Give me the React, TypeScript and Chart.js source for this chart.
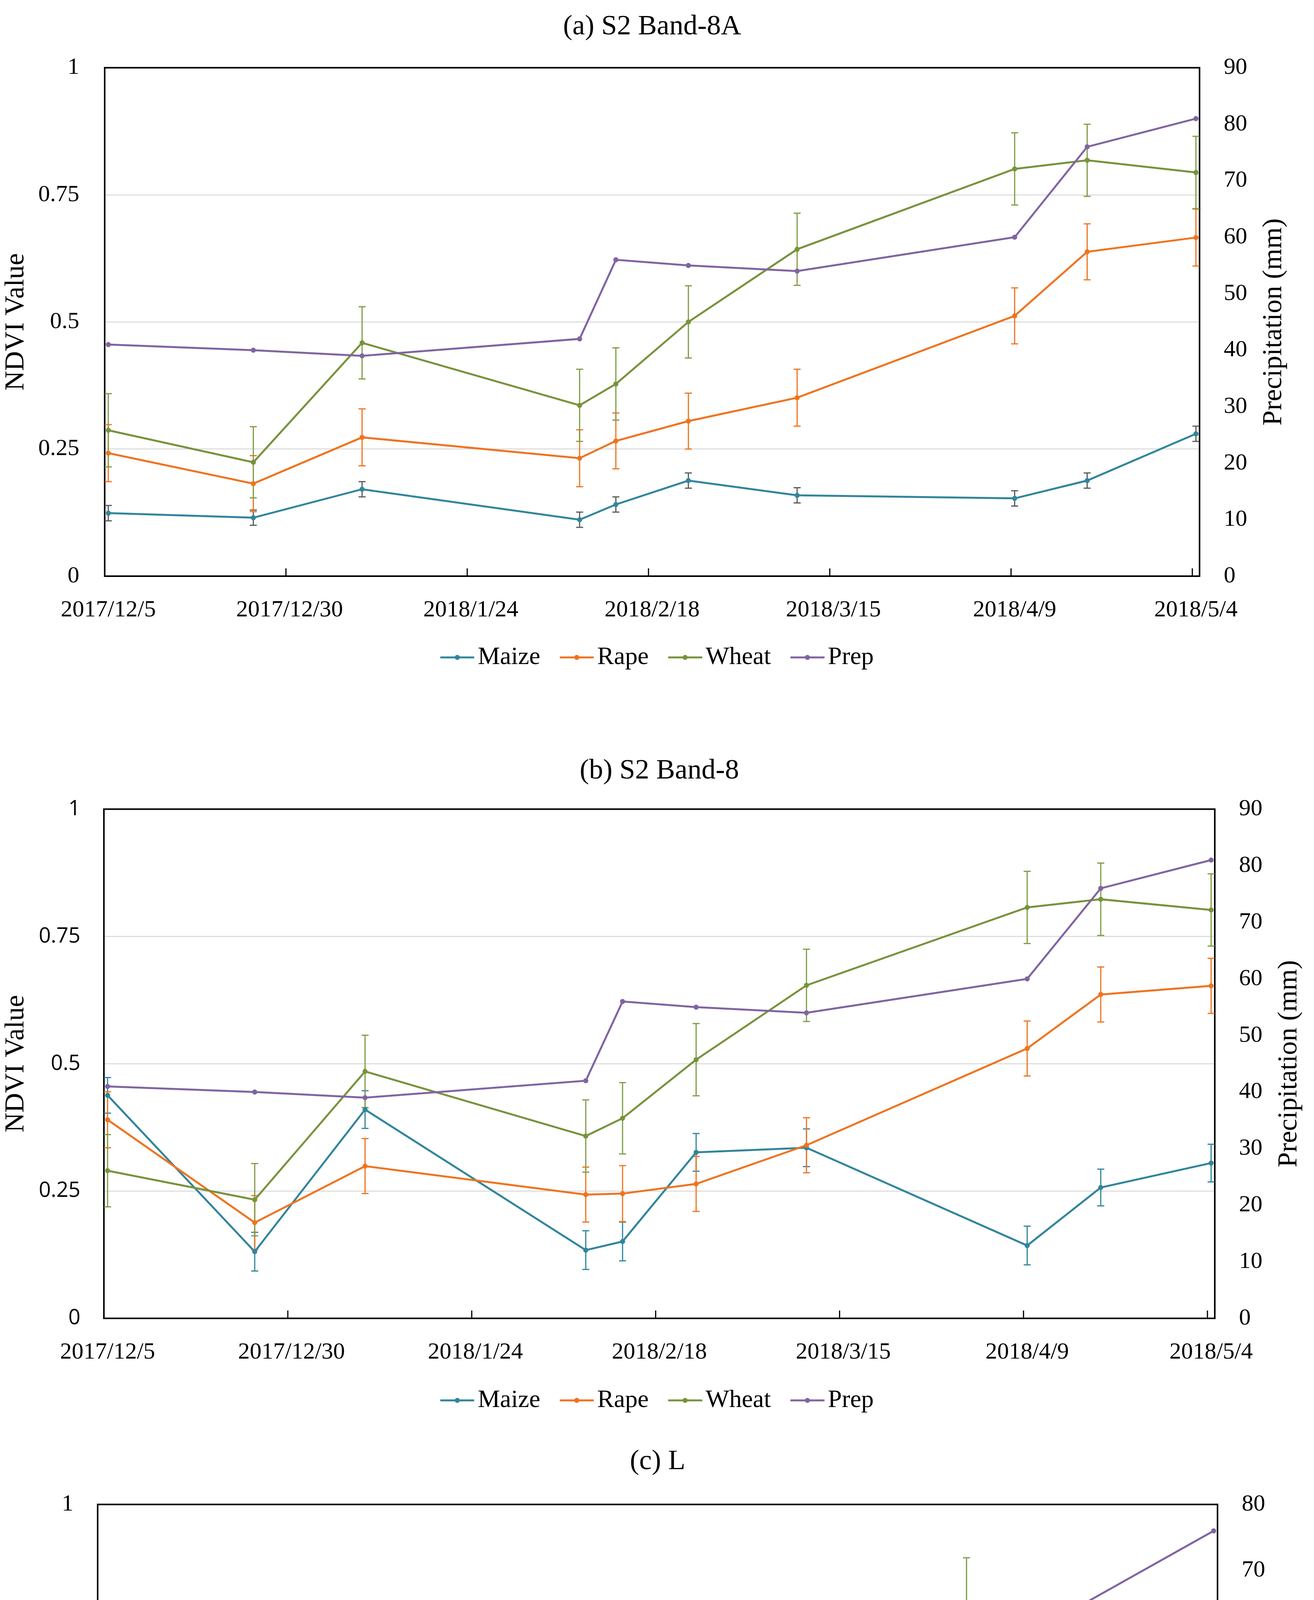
import React, { useEffect, useRef } from 'react';
import { Chart, registerables } from 'chart.js';

Chart.register(...registerables);

const SERIF = '"Liberation Serif", "Times New Roman", serif';
const SANS = '"Open Sans", "Noto Sans", sans-serif';

// ---------------- data ----------------
const seriesNames = ['Maize', 'Rape', 'Wheat', 'Prep'];
const seriesColors = ['#31859C', '#EE7420', '#77933C', '#8064A2'];

// acquisition dates, as day offsets from 2017/12/5
const daysS2 = [0, 20, 35, 65, 70, 80, 95, 125, 135, 150];
const daysL = [0, 16, 80, 112, 144];

// x tick labels (day offsets from 2017/12/5)
const xTickDaysS2 = [0, 25, 50, 75, 100, 125, 150];
const xTickLabelsS2 = ['2017/12/5', '2017/12/30', '2018/1/24', '2018/2/18', '2018/3/15', '2018/4/9', '2018/5/4'];
const xTickDaysL = [0, 25, 50, 75, 100, 125, 143];
const xTickLabelsL = ['2017/12/5', '2017/12/30', '2018/1/24', '2018/2/18', '2018/3/15', '2018/4/9', '2018/04/28'];
const xTickMarkDaysL = [0, 25, 50, 75, 100, 125];

// (a) S2 Band-8A
const maizeA = [0.124, 0.115, 0.171, 0.111, 0.141, 0.188, 0.159, 0.153, 0.188, 0.28];
const maizeErrA = [0.015, 0.015, 0.015, 0.015, 0.015, 0.015, 0.015, 0.015, 0.015, 0.015];
const rapeA = [0.242, 0.182, 0.273, 0.232, 0.266, 0.305, 0.351, 0.512, 0.638, 0.666];
const rapeErrA = [0.056, 0.055, 0.056, 0.056, 0.055, 0.055, 0.056, 0.055, 0.055, 0.056];
const wheatA = [0.287, 0.224, 0.459, 0.336, 0.378, 0.5, 0.643, 0.801, 0.818, 0.794];
const wheatErrA = [0.072, 0.07, 0.071, 0.071, 0.071, 0.071, 0.071, 0.071, 0.071, 0.071];
const prepA = [41, 40, 39, 42, 56, 55, 54, 60, 76, 81];

// (b) S2 Band-8
const maizeB = [0.438, 0.131, 0.41, 0.134, 0.151, 0.326, 0.335, 0.143, 0.257, 0.305];
const maizeErrB = [0.035, 0.038, 0.037, 0.038, 0.038, 0.037, 0.037, 0.038, 0.036, 0.037];
const rapeB = [0.39, 0.188, 0.299, 0.243, 0.245, 0.264, 0.34, 0.53, 0.636, 0.653];
const rapeErrB = [0.055, 0.053, 0.054, 0.054, 0.055, 0.054, 0.054, 0.054, 0.054, 0.054];
const wheatB = [0.29, 0.233, 0.485, 0.358, 0.393, 0.508, 0.654, 0.807, 0.823, 0.802];
const wheatErrB = [0.071, 0.071, 0.071, 0.071, 0.07, 0.071, 0.071, 0.071, 0.071, 0.071];
const prepB = [41, 40, 39, 42, 56, 55, 54, 60, 76, 81];

// (c) L
const maizeC = [0.421, 0.346, 0.315, 0.292, 0.307];
const maizeErrC = [0.023, 0.025, 0.024, 0.023, 0.023];
const rapeC = [0.388, 0.329, 0.436, 0.559, 0.562];
const rapeErrC = [0.047, 0.045, 0.047, 0.046, 0.047];
const wheatC = [0.212, 0.207, 0.46, 0.782, 0.683];
const wheatErrC = [0.118, 0.12, 0.12, 0.117, 0.117];
const prepC = [41, 40, 56, 55, 76];

// ---------------- panels ----------------
const panels = [
  {
    key: 'a', top: 0, height: 1740, title: '(a) S2 Band-8A',
    days: daysS2, xMax: 151, tickDays: xTickDaysS2, tickLabels: xTickLabelsS2, tickMarkDays: xTickDaysS2,
    maize: maizeA, maizeErr: maizeErrA, rape: rapeA, rapeErr: rapeErrA, wheat: wheatA, wheatErr: wheatErrA, prep: prepA,
    maizeErrColor: '#595959', yStep: 0.25, y1Max: 90, yLabel: 'NDVI Value',
    yTickFamily: SERIF, yTickSize: 60,
    titlePad: { top: 26, bottom: 61 }, leftW: 268, rightW: 293, xAxisH: 126, padBottom: 15, yTickPad: 65, rightTitleOffset: 102,
  },
  {
    key: 'b', top: 1900, height: 1772, title: '(b) S2 Band-8',
    days: daysS2, xMax: 151, tickDays: xTickDaysS2, tickLabels: xTickLabelsS2, tickMarkDays: xTickDaysS2,
    maize: maizeB, maizeErr: maizeErrB, rape: rapeB, rapeErr: rapeErrB, wheat: wheatB, wheatErr: wheatErrB, prep: prepB,
    maizeErrColor: '#31859C', yStep: 0.25, y1Max: 90, yLabel: 'NDVI Value',
    yTickFamily: SANS, yTickSize: 54,
    titlePad: { top: 31, bottom: 54 }, leftW: 266, rightW: 254, xAxisH: 128, padBottom: 45, yTickPad: 60, rightTitleOffset: 63,
  },
  {
    key: 'c', top: 3672, height: 1802, title: '(c) L',
    days: daysL, xMax: 145, tickDays: xTickDaysL, tickLabels: xTickLabelsL, tickMarkDays: xTickMarkDaysL,
    maize: maizeC, maizeErr: maizeErrC, rape: rapeC, rapeErr: rapeErrC, wheat: wheatC, wheatErr: wheatErrC, prep: prepC,
    maizeErrColor: '#595959', yStep: 0.2, y1Max: 80, yLabel: 'NDVI value',
    yTickFamily: SERIF, yTickSize: 60,
    titlePad: { top: 27, bottom: 66 }, leftW: 250, rightW: 247, xAxisH: 134, padBottom: 12, yTickPad: 62, rightTitleOffset: 63,
  },
];

// ---------------- helpers ----------------
function makeIcon(color: string) {
  const c = document.createElement('canvas');
  c.width = 110;
  c.height = 20;
  const g = c.getContext('2d')!;
  g.strokeStyle = color;
  g.lineWidth = 5;
  g.beginPath();
  g.moveTo(23, 10);
  g.lineTo(110, 10);
  g.stroke();
  g.fillStyle = color;
  g.beginPath();
  g.arc(66.5, 10, 6.5, 0, Math.PI * 2);
  g.fill();
  return c;
}

const customPlugin = {
  id: 'custom',
  beforeDatasetsDraw(chart: any, _args: any, opts: any) {
    const { ctx, chartArea: a } = chart;
    const xs = chart.scales.x;
    // plot frame
    ctx.save();
    ctx.strokeStyle = '#000';
    ctx.lineWidth = opts.frameWidth;
    ctx.strokeRect(a.left, a.top, a.right - a.left, a.bottom - a.top);
    // inner tick marks on the date axis
    ctx.lineWidth = 3;
    ctx.beginPath();
    (opts.tickMarkDays || []).forEach((d: number) => {
      const px = xs.getPixelForValue(d);
      ctx.moveTo(px, a.bottom);
      ctx.lineTo(px, a.bottom - opts.tickLen);
    });
    ctx.stroke();
    ctx.restore();
    // error bars
    chart.data.datasets.forEach((ds: any, i: number) => {
      if (!ds.errors) return;
      const meta = chart.getDatasetMeta(i);
      const ys = chart.scales[meta.yAxisID];
      ctx.save();
      ctx.strokeStyle = ds.errorColor;
      ctx.lineWidth = opts.errWidth;
      ctx.beginPath();
      meta.data.forEach((pt: any, j: number) => {
        const v = ds.data[j].y;
        const e = ds.errors[j];
        const yt = ys.getPixelForValue(v + e);
        const yb = ys.getPixelForValue(v - e);
        const cap = opts.errCap;
        ctx.moveTo(pt.x, yt);
        ctx.lineTo(pt.x, yb);
        ctx.moveTo(pt.x - cap, yt);
        ctx.lineTo(pt.x + cap, yt);
        ctx.moveTo(pt.x - cap, yb);
        ctx.lineTo(pt.x + cap, yb);
      });
      ctx.stroke();
      ctx.restore();
    });
  },
  afterDraw(chart: any, _args: any, opts: any) {
    const { ctx, chartArea: a } = chart;
    const ys1 = chart.scales.y1;
    ctx.save();
    ctx.fillStyle = '#000';
    ctx.font = `${opts.rightTitleSize}px ${SERIF}`;
    ctx.textAlign = 'center';
    ctx.textBaseline = 'middle';
    ctx.translate(ys1.right - opts.rightTitleOffset, (a.top + a.bottom) / 2);
    ctx.rotate(-Math.PI / 2);
    ctx.fillText(opts.rightTitle, 0, 0);
    ctx.restore();
  },
};

const fmt = (v: any) => String(+Number(v).toFixed(2));

function Panel({ cfg }: { cfg: any }) {
  const ref = useRef<HTMLCanvasElement>(null);
  useEffect(() => {
    const canvas = ref.current!;
    const icons = seriesColors.map(makeIcon);
    const pts = (vals: number[]) => cfg.days.map((d: number, j: number) => ({ x: d + 0.5, y: vals[j] }));
    const line = (i: number, vals: number[], extra: any) => ({
      label: seriesNames[i],
      data: pts(vals),
      borderColor: seriesColors[i],
      backgroundColor: seriesColors[i],
      pointBackgroundColor: seriesColors[i],
      pointBorderWidth: 0,
      pointRadius: 6.5,
      borderWidth: 5,
      tension: 0,
      order: 4 - i,
      ...extra,
    });
    const datasets: any[] = [
      line(0, cfg.maize, { yAxisID: 'y', errors: cfg.maizeErr, errorColor: cfg.maizeErrColor }),
      line(1, cfg.rape, { yAxisID: 'y', errors: cfg.rapeErr, errorColor: seriesColors[1] }),
      line(2, cfg.wheat, { yAxisID: 'y', errors: cfg.wheatErr, errorColor: '#7F9C45' }),
      line(3, cfg.prep, { yAxisID: 'y1' }),
    ];
    const chart = new Chart(canvas, {
      type: 'line',
      data: { datasets },
      plugins: [customPlugin],
      options: {
        animation: false,
        responsive: false,
        devicePixelRatio: 1,
        layout: { padding: { top: 0, left: 0, right: 0, bottom: cfg.padBottom } },
        scales: {
          x: {
            type: 'linear',
            min: 0,
            max: cfg.xMax,
            afterBuildTicks: (s: any) => {
              s.ticks = cfg.tickDays.map((d: number) => ({ value: d + 0.5 }));
            },
            afterFit: (s: any) => {
              s.height = cfg.xAxisH;
            },
            grid: { display: false, drawTicks: false },
            border: { display: false },
            ticks: {
              autoSkip: false,
              maxRotation: 0,
              minRotation: 0,
              padding: 51,
              color: '#000',
              font: { family: SERIF, size: 60 },
              callback: (_v: any, i: number) => cfg.tickLabels[i],
            },
          },
          y: {
            type: 'linear',
            position: 'left',
            min: 0,
            max: 1,
            afterFit: (s: any) => {
              s.width = cfg.leftW;
            },
            grid: { color: '#D9D9D9', lineWidth: 2.5, drawTicks: false },
            border: { display: false },
            ticks: {
              stepSize: cfg.yStep,
              padding: cfg.yTickPad,
              color: '#000',
              font: { family: cfg.yTickFamily, size: cfg.yTickSize },
              callback: fmt,
            },
            title: {
              display: true,
              text: cfg.yLabel,
              color: '#000',
              font: { family: SERIF, size: 70 },
              padding: { top: 0, bottom: 0 },
            },
          },
          y1: {
            type: 'linear',
            position: 'right',
            min: 0,
            max: cfg.y1Max,
            afterFit: (s: any) => {
              s.width = cfg.rightW;
            },
            grid: { display: false, drawTicks: false },
            border: { display: false },
            ticks: {
              stepSize: 10,
              padding: 62,
              color: '#000',
              font: { family: SERIF, size: 60 },
              callback: fmt,
            },
          },
        },
        plugins: {
          title: {
            display: true,
            text: cfg.title,
            color: '#000',
            fullSize: false,
            font: { family: SERIF, size: 72, weight: 'normal' },
            padding: cfg.titlePad,
          },
          legend: {
            display: true,
            position: 'bottom',
            labels: {
              usePointStyle: true,
              pointStyleWidth: 64,
              boxHeight: 20,
              padding: 50,
              color: '#000',
              font: { family: SERIF, size: 64 },
              generateLabels: (ch: any) =>
                ch.data.datasets.map((ds: any, i: number) => ({
                  text: ds.label,
                  pointStyle: icons[i],
                  fillStyle: ds.borderColor,
                  strokeStyle: ds.borderColor,
                  lineWidth: 0,
                  hidden: false,
                  datasetIndex: i,
                  fontColor: '#000',
                })),
            },
          },
          tooltip: { enabled: false },
          custom: {
            tickMarkDays: cfg.tickMarkDays,
            tickLen: 20,
            frameWidth: 4,
            errCap: 9,
            errWidth: 3,
            rightTitle: 'Precipitation (mm)',
            rightTitleOffset: cfg.rightTitleOffset,
            rightTitleSize: 70,
          },
        },
      } as any,
    });
    return () => chart.destroy();
  }, [cfg]);
  return (
    <canvas
      ref={ref}
      width={3364}
      height={cfg.height}
      style={{ position: 'absolute', left: 0, top: cfg.top, width: 3364, height: cfg.height, display: 'block' }}
    />
  );
}

export default function App() {
  useEffect(() => {
    document.body.style.margin = '0';
    document.body.style.background = '#fff';
  }, []);
  return (
    <div style={{ position: 'relative', width: 3364, height: 5474, background: '#fff', overflow: 'hidden' }}>
      {panels.map((p) => (
        <Panel key={p.key} cfg={p} />
      ))}
    </div>
  );
}
